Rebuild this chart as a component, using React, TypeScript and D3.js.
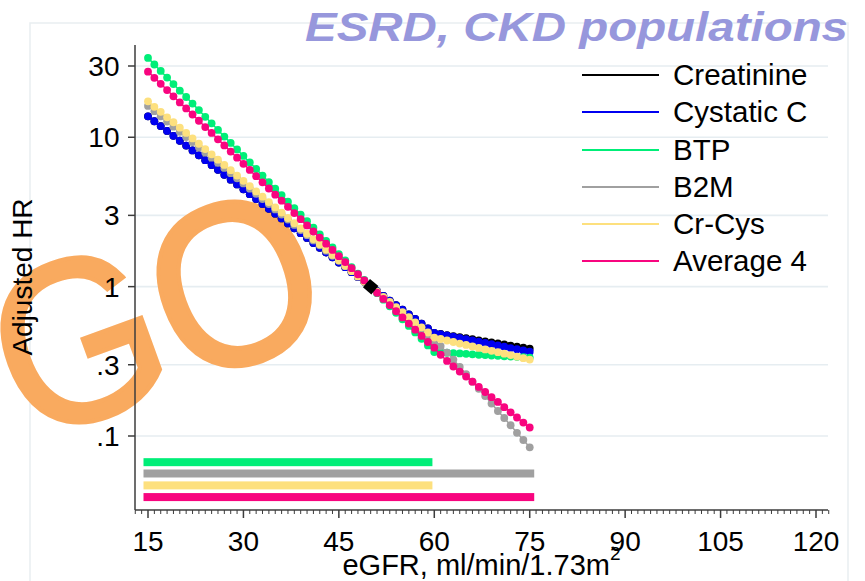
import React from "react";
import * as d3 from "d3";

const egfr = [15,16,17,18,19,20,21,22,23,24,25,26,27,28,29,30,31,32,33,34,35,36,37,38,39,40,41,42,43,44,45,46,47,48,49,50,51,52,53,54,55,56,57,58,59,60,61,62,63,64,65,66,67,68,69,70,71,72,73,74,75];

const creatinine = [13.8,12.8,11.88,11.02,10.22,9.48,8.8,8.16,7.57,7.03,6.52,6.05,5.61,5.2,4.83,4.48,4.16,3.86,3.58,3.32,3.08,2.86,2.65,2.46,2.28,2.12,1.96,1.82,1.69,1.57,1.45,1.35,1.25,1.16,1.08,1.0,0.931,0.867,0.807,0.752,0.7,0.652,0.607,0.565,0.526,0.49,0.482,0.474,0.467,0.459,0.452,0.445,0.437,0.43,0.423,0.417,0.41,0.403,0.397,0.39,0.384];
const cystatinC = [13.8,12.8,11.88,11.02,10.22,9.48,8.8,8.16,7.57,7.03,6.52,6.05,5.61,5.2,4.83,4.48,4.16,3.86,3.58,3.32,3.08,2.86,2.65,2.46,2.28,2.12,1.96,1.82,1.69,1.57,1.45,1.35,1.25,1.16,1.08,1.0,0.931,0.867,0.807,0.752,0.7,0.652,0.607,0.565,0.526,0.49,0.481,0.471,0.462,0.453,0.445,0.436,0.428,0.42,0.412,0.404,0.396,0.388,0.381,0.374,0.367];
const btp = [34.0,30.7,27.8,25.1,22.7,20.5,18.6,16.8,15.2,13.7,12.4,11.2,10.1,9.17,8.29,7.5,6.78,6.13,5.54,5.01,4.53,4.1,3.7,3.35,3.03,2.74,2.48,2.24,2.02,1.83,1.65,1.5,1.35,1.22,1.11,1.0,0.904,0.818,0.739,0.668,0.604,0.546,0.494,0.447,0.404,0.365,0.363,0.361,0.359,0.357,0.355,0.352,0.35,0.348,0.346,0.344,0.342,0.34,0.339,0.337,0.335];
const b2m = [16.2,14.96,13.81,12.75,11.78,10.88,10.04,9.28,8.57,7.91,7.3,6.75,6.23,5.75,5.31,4.91,4.53,4.18,3.86,3.57,3.29,3.04,2.81,2.59,2.39,2.21,2.04,1.89,1.74,1.61,1.49,1.37,1.27,1.17,1.08,1.0,0.917,0.841,0.771,0.707,0.648,0.594,0.545,0.5,0.458,0.42,0.4,0.362,0.325,0.29,0.259,0.231,0.207,0.185,0.165,0.147,0.132,0.118,0.105,0.094,0.084];
const crCys = [17.4,16.0,14.8,13.6,12.6,11.6,10.7,9.82,9.05,8.34,7.69,7.08,6.53,6.02,5.54,5.11,4.71,4.34,4.0,3.68,3.39,3.13,2.88,2.66,2.45,2.26,2.08,1.92,1.77,1.63,1.5,1.38,1.27,1.17,1.08,1.0,0.925,0.855,0.79,0.73,0.675,0.624,0.577,0.534,0.493,0.456,0.446,0.436,0.426,0.416,0.407,0.398,0.389,0.38,0.372,0.364,0.356,0.348,0.34,0.332,0.325];
const average4 = [27.5,25.0,22.8,20.7,18.8,17.1,15.6,14.2,12.9,11.7,10.7,9.69,8.82,8.02,7.3,6.64,6.04,5.49,4.99,4.54,4.13,3.76,3.42,3.11,2.83,2.57,2.34,2.13,1.94,1.76,1.6,1.46,1.33,1.21,1.1,1.0,0.91,0.827,0.752,0.684,0.622,0.566,0.515,0.468,0.426,0.39,0.35,0.318,0.292,0.27,0.25,0.231,0.213,0.197,0.182,0.169,0.156,0.144,0.133,0.123,0.114];

const seriesNames = ["Creatinine", "Cystatic C", "BTP", "B2M", "Cr-Cys", "Average 4"];
const seriesColors = ["#000000", "#0000f0", "#00ee78", "#a0a0a0", "#fde07e", "#f8057f"];
const seriesValues = [creatinine, cystatinC, btp, b2m, crCys, average4];

// range bars (significance rows) under the curves
const barNames = ["BTP", "B2M", "Cr-Cys", "Average 4"];
const barColors = ["#00ee78", "#a0a0a0", "#fde07e", "#f8057f"];
const barLevels = [0.0668, 0.0561, 0.0467, 0.039];
const barStart = [15, 15, 15, 15];
const barEnd = [59, 75, 59, 75];

const refPoint = { egfr: 50, hr: 1 };

const xTicks = [15, 30, 45, 60, 75, 90, 105, 120];
const xMinorTicks = d3.range(13, 123);
const yTicks = [30, 10, 3, 1, 0.3, 0.1];
const yTickLabels = ["30", "10", "3", "1", ".3", ".1"];

const title = "ESRD, CKD populations";
const xTitle = "eGFR, ml/min/1.73m";
const yTitle = "Adjusted HR";
const watermark = "GO";

const FONT = "'Liberation Sans', Arial, Helvetica, sans-serif";

export default function App() {
  const W = 865, H = 581;
  const x = d3.scaleLinear().domain([15, 120]).range([148, 816]);
  const y = d3.scaleLog().domain([0.1, 30]).range([436, 66]);
  const axisLeft = 135, axisRight = 828, axisTop = 45, axisBottom = 510;
  const line = d3.line<number>().x((_, i) => x(egfr[i])).y((d) => y(d));
  const axisColor = "#3c3c3c";
  const gridColor = "#e6edf1";
  const legendRows = [75, 112, 150, 187, 224, 261];

  return (
    <svg width={W} height={H} style={{ position: "absolute", left: 0, top: 0, background: "#fff" }} fontFamily={FONT}>
      <rect x={0} y={0} width={W} height={H} fill="#fff" />
      <rect x={30} y={23} width={818} height={590} fill="none" stroke="#e9eef1" strokeWidth={1.5} />
      {/* gridlines */}
      {yTicks.map((t) => (
        <line key={"g" + t} x1={axisLeft} x2={axisRight} y1={y(t)} y2={y(t)} stroke={gridColor} strokeWidth={1.6} />
      ))}
      {/* watermark */}
      <g transform="translate(155,309) rotate(-20) scale(1,1.08)">
        <text x={0} y={77} textAnchor="middle" fontSize={214} fill="#f9aa5f" stroke="#f9aa5f" strokeWidth={4} fontFamily={FONT}>
          {watermark}
        </text>
      </g>
      <text transform="translate(32,277) rotate(-90)" textAnchor="middle" fontSize={28} fill="#000">{yTitle}</text>
      {/* bars */}
      {barNames.map((n, i) => (
        <rect key={n} x={x(barStart[i]) - 4.5} width={x(barEnd[i]) - x(barStart[i]) + 9} y={y(barLevels[i]) - 4} height={8} fill={barColors[i]} />
      ))}
      {/* series */}
      {seriesValues.map((vals, si) => (
        <g key={seriesNames[si]}>
          <path d={line(vals) || ""} fill="none" stroke={seriesColors[si]} strokeWidth={1.5} />
          {vals.map((v, i) => (
            <circle key={i} cx={x(egfr[i])} cy={y(v)} r={3.9} fill={seriesColors[si]} />
          ))}
        </g>
      ))}
      {/* reference diamond */}
      <rect x={x(refPoint.egfr) - 5.5} y={y(refPoint.hr) - 5.5} width={11} height={11} fill="#000" transform={`rotate(40 ${x(refPoint.egfr)} ${y(refPoint.hr)})`} />
      {/* axes */}
      <line x1={axisLeft} x2={axisLeft} y1={axisTop} y2={axisBottom} stroke={axisColor} strokeWidth={1.5} />
      <line x1={axisLeft} x2={axisRight} y1={axisBottom} y2={axisBottom} stroke={axisColor} strokeWidth={1.5} />
      {yTicks.map((t, i) => (
        <g key={"y" + t}>
          <line x1={axisLeft - 7} x2={axisLeft} y1={y(t)} y2={y(t)} stroke={axisColor} strokeWidth={1.5} />
          <text x={119.5} y={y(t) + 10} textAnchor="end" fontSize={28} fill="#000">{yTickLabels[i]}</text>
        </g>
      ))}
      {xMinorTicks.filter((t) => !xTicks.includes(t)).map((t) => (
        <line key={"m" + t} x1={x(t)} x2={x(t)} y1={axisBottom} y2={axisBottom + 4} stroke={axisColor} strokeWidth={1} />
      ))}
      {xTicks.map((t) => (
        <g key={"x" + t}>
          <line x1={x(t)} x2={x(t)} y1={axisBottom} y2={axisBottom + 8} stroke={axisColor} strokeWidth={1.5} />
          <text x={x(t)} y={551} textAnchor="middle" fontSize={28} fill="#000">{t}</text>
        </g>
      ))}
      <text x={(axisLeft + axisRight) / 2} y={575} textAnchor="middle" fontSize={29} fill="#000">
        {xTitle}
        <tspan fontSize={19} dy={-15}>2</tspan>
      </text>
      {/* legend */}
      {seriesNames.map((n, i) => (
        <g key={"l" + n}>
          <line x1={582} x2={659} y1={legendRows[i]} y2={legendRows[i]} stroke={seriesColors[i]} strokeWidth={2} />
          <text x={673} y={legendRows[i] + 10} fontSize={29.5} fill="#000">{n}</text>
        </g>
      ))}
      {/* title */}
      <text x={305} y={41} fontSize={41} fontWeight="bold" fontStyle="italic" fill="#9797dc" textLength={543} lengthAdjust="spacingAndGlyphs">
        {title}
      </text>
    </svg>
  );
}
